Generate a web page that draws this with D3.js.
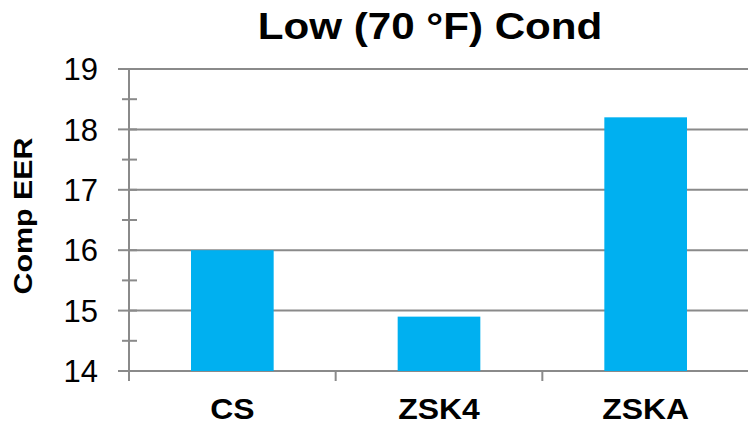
<!DOCTYPE html>
<html>
<head>
<meta charset="utf-8">
<script src="https://cdn.jsdelivr.net/npm/d3@7"></script>
<style>
  html, body { margin: 0; padding: 0; background: #fff; }
  svg { display: block; font-family: "Liberation Sans", Arial, sans-serif; }
</style>
</head>
<body>
<svg id="chart" width="748" height="425"></svg>
<script>
// Compressor EER at low (70 °F) condensing temperature
const categories = ["CS", "ZSK4", "ZSKA"];
const eerValues = [16.0, 14.9, 18.2];
const yTicks = [14, 15, 16, 17, 18, 19];
const yMinorTicks = [14.5, 15.5, 16.5, 17.5, 18.5];
const chartTitle = "Low (70 °F) Cond";
const yTitle = "Comp EER";

const W = 748, H = 425;
const plot = { left: 129, right: 749, top: 69, bottom: 371 };
const gridColor = "#8a8a8a";
const barColor = "#00B0F0";

const svg = d3.select("#chart");

const x = d3.scaleBand()
  .domain(categories)
  .range([plot.left, plot.right])
  .paddingInner(0.6)
  .paddingOuter(0.3);

const y = d3.scaleLinear()
  .domain([14, 19])
  .range([plot.bottom, plot.top]);

// horizontal gridlines
svg.append("g")
  .selectAll("line")
  .data(yTicks)
  .join("line")
  .attr("x1", plot.left)
  .attr("x2", plot.right)
  .attr("y1", d => y(d))
  .attr("y2", d => y(d))
  .attr("stroke", gridColor)
  .attr("stroke-width", 2);

// bars
svg.append("g")
  .selectAll("rect")
  .data(categories.map((c, i) => ({ c, v: eerValues[i] })))
  .join("rect")
  .attr("x", d => x(d.c))
  .attr("width", x.bandwidth())
  .attr("y", d => y(d.v))
  .attr("height", d => y(14) - y(d.v))
  .attr("fill", barColor);

// y axis: major ticks cross the axis line, minor ticks shorter
const yAxis = svg.append("g").attr("transform", `translate(${plot.left},0)`);
yAxis.append("line")
  .attr("x1", 0).attr("x2", 0)
  .attr("y1", plot.top).attr("y2", plot.bottom + 10)
  .attr("stroke", gridColor).attr("stroke-width", 2);
yAxis.selectAll("line.major")
  .data(yTicks)
  .join("line")
  .attr("class", "major")
  .attr("x1", -11).attr("x2", 8)
  .attr("y1", d => y(d)).attr("y2", d => y(d))
  .attr("stroke", gridColor).attr("stroke-width", 2);
yAxis.selectAll("line.minor")
  .data(yMinorTicks)
  .join("line")
  .attr("class", "minor")
  .attr("x1", -7).attr("x2", 8)
  .attr("y1", d => y(d)).attr("y2", d => y(d))
  .attr("stroke", gridColor).attr("stroke-width", 2);
yAxis.selectAll("text")
  .data(yTicks)
  .join("text")
  .attr("x", -31)
  .attr("y", d => y(d))
  .attr("dy", "0.36em")
  .attr("text-anchor", "end")
  .attr("font-size", 31)
  .attr("fill", "#000")
  .text(d => d);

// x axis category separators and labels
const xBoundaries = categories.slice(1).map(c => x(c) - x.step() * x.paddingInner() / 2);
svg.append("g")
  .selectAll("line")
  .data(xBoundaries)
  .join("line")
  .attr("x1", d => d).attr("x2", d => d)
  .attr("y1", plot.bottom).attr("y2", plot.bottom + 10)
  .attr("stroke", gridColor).attr("stroke-width", 2);

svg.append("g")
  .selectAll("text")
  .data(categories)
  .join("text")
  .attr("transform", d => `translate(${x(d) + x.bandwidth() / 2},419) scale(1.1,1)`)
  .attr("text-anchor", "middle")
  .attr("font-size", 29)
  .attr("font-weight", "bold")
  .attr("fill", "#000")
  .text(d => d);

// y axis title
svg.append("text")
  .attr("transform", `translate(32,${(plot.top + plot.bottom) / 2 - 4}) rotate(-90) scale(1.17,1)`)
  .attr("text-anchor", "middle")
  .attr("font-size", 26)
  .attr("font-weight", "bold")
  .attr("fill", "#000")
  .text(yTitle);

// chart title
svg.append("text")
  .attr("transform", "translate(430,39) scale(1.14,1)")
  .attr("text-anchor", "middle")
  .attr("font-size", 37)
  .attr("font-weight", "bold")
  .attr("fill", "#000")
  .text(chartTitle);
</script>
</body>
</html>
